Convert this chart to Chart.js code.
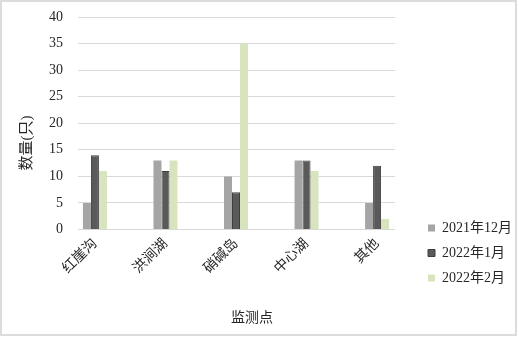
<!DOCTYPE html>
<html>
<head>
<meta charset="utf-8">
<script src="https://cdn.jsdelivr.net/npm/chart.js@4/dist/chart.umd.min.js"></script>
<style>
  html, body { margin: 0; padding: 0; background: #fff; }
  #wrap { position: relative; width: 519px; height: 338px; }
  #frame { position: absolute; left: 0; top: 0; width: 513px; height: 332px;
           border: 2px solid #dcdcdc; pointer-events: none; }
</style>
</head>
<body>
<div id="wrap">
  <canvas id="c" width="519" height="338"></canvas>
  <div id="frame"></div>
</div>
<script>
// Monitoring sites and bird counts per survey month
const sites = ['红崖沟', '洪涧湖', '硝碱岛', '中心湖', '其他'];
const monthLabels = ['2021年12月', '2022年1月', '2022年2月'];
const dec2021 = [5, 13, 10, 13, 5];
const jan2022 = [14, 11, 7, 13, 12];
const feb2022 = [11, 13, 35, 11, 2];
const yTicks = [0, 5, 10, 15, 20, 25, 30, 35, 40];

const FONT = '"Liberation Serif", "Noto Sans CJK SC", serif';
const TEXT = '#262626';
const GRID = '#d9d9d9';

const toPoints = vals => vals.map((v, i) => ({ x: i, y: v }));

// Axis titles drawn next to the plot
const axisTitles = {
  id: 'axisTitles',
  afterDraw(chart) {
    const ctx = chart.ctx;
    ctx.save();
    ctx.fillStyle = TEXT;
    ctx.font = '14px ' + FONT;
    ctx.textAlign = 'center';
    ctx.textBaseline = 'middle';
    ctx.fillText('监测点', 252, 318);
    ctx.font = '15px ' + FONT;
    ctx.translate(27, 143);
    ctx.rotate(-Math.PI / 2);
    ctx.fillText('数量(只)', 0, 0);
    ctx.restore();
  }
};

// Place the legend block at the lower right, beside the plot
const legendPlacer = {
  id: 'legendPlacer',
  afterLayout(chart) {
    const lg = chart.legend;
    if (!lg || !lg.legendHitBoxes || !lg.legendHitBoxes.length) return;
    const pad = lg.options.labels.padding;
    const h = lg.height, w = lg.width;
    const top = 228 - lg.legendHitBoxes[0].height / 2 - pad;
    const left = 428 - pad;
    lg.top = top; lg.bottom = top + h;
    lg.left = left; lg.right = left + w;
  }
};

new Chart(document.getElementById('c'), {
  type: 'bar',
  data: {
    datasets: [
      { label: monthLabels[0], data: toPoints(dec2021), backgroundColor: '#a5a5a5', borderWidth: 0 },
      { label: monthLabels[1], data: toPoints(jan2022), backgroundColor: '#5a5a5a', borderColor: '#3f3f3f', borderWidth: 1 },
      { label: monthLabels[2], data: toPoints(feb2022), backgroundColor: '#d7e4bd', borderWidth: 0 }
    ]
  },
  options: {
    responsive: false,
    animation: false,
    events: [],
    layout: { padding: { top: 17, right: 19, bottom: 0, left: 0 } },
    datasets: { bar: { barPercentage: 1, categoryPercentage: 0.34 } },
    scales: {
      x: {
        type: 'linear',
        offset: false,
        min: -0.24,
        max: 4.254,
        afterBuildTicks: s => { s.ticks = sites.map((_, i) => ({ value: i })); },
        afterFit: s => { s.height = 108.5; },
        grid: { display: false, drawTicks: false, offset: false },
        border: { display: false },
        ticks: {
          autoSkip: false,
          maxRotation: 45,
          minRotation: 45,
          padding: 6,
          color: TEXT,
          font: { family: FONT, size: 14 },
          callback: v => sites[v]
        }
      },
      y: {
        min: 0,
        max: 40,
        afterBuildTicks: s => { s.ticks = yTicks.map(v => ({ value: v })); },
        afterFit: s => { s.width = 78; s.paddingTop = 0; s.paddingBottom = 0; },
        grid: { color: GRID, lineWidth: 1, drawTicks: false },
        border: { display: false },
        ticks: { padding: 15, color: TEXT, font: { family: FONT, size: 14 } }
      }
    },
    plugins: {
      legend: {
        position: 'right',
        align: 'start',
        labels: {
          boxWidth: 7,
          boxHeight: 7,
          padding: 11,
          color: TEXT,
          font: { family: FONT, size: 14 }
        }
      },
      tooltip: { enabled: false }
    }
  },
  plugins: [legendPlacer, axisTitles]
});
</script>
</body>
</html>
